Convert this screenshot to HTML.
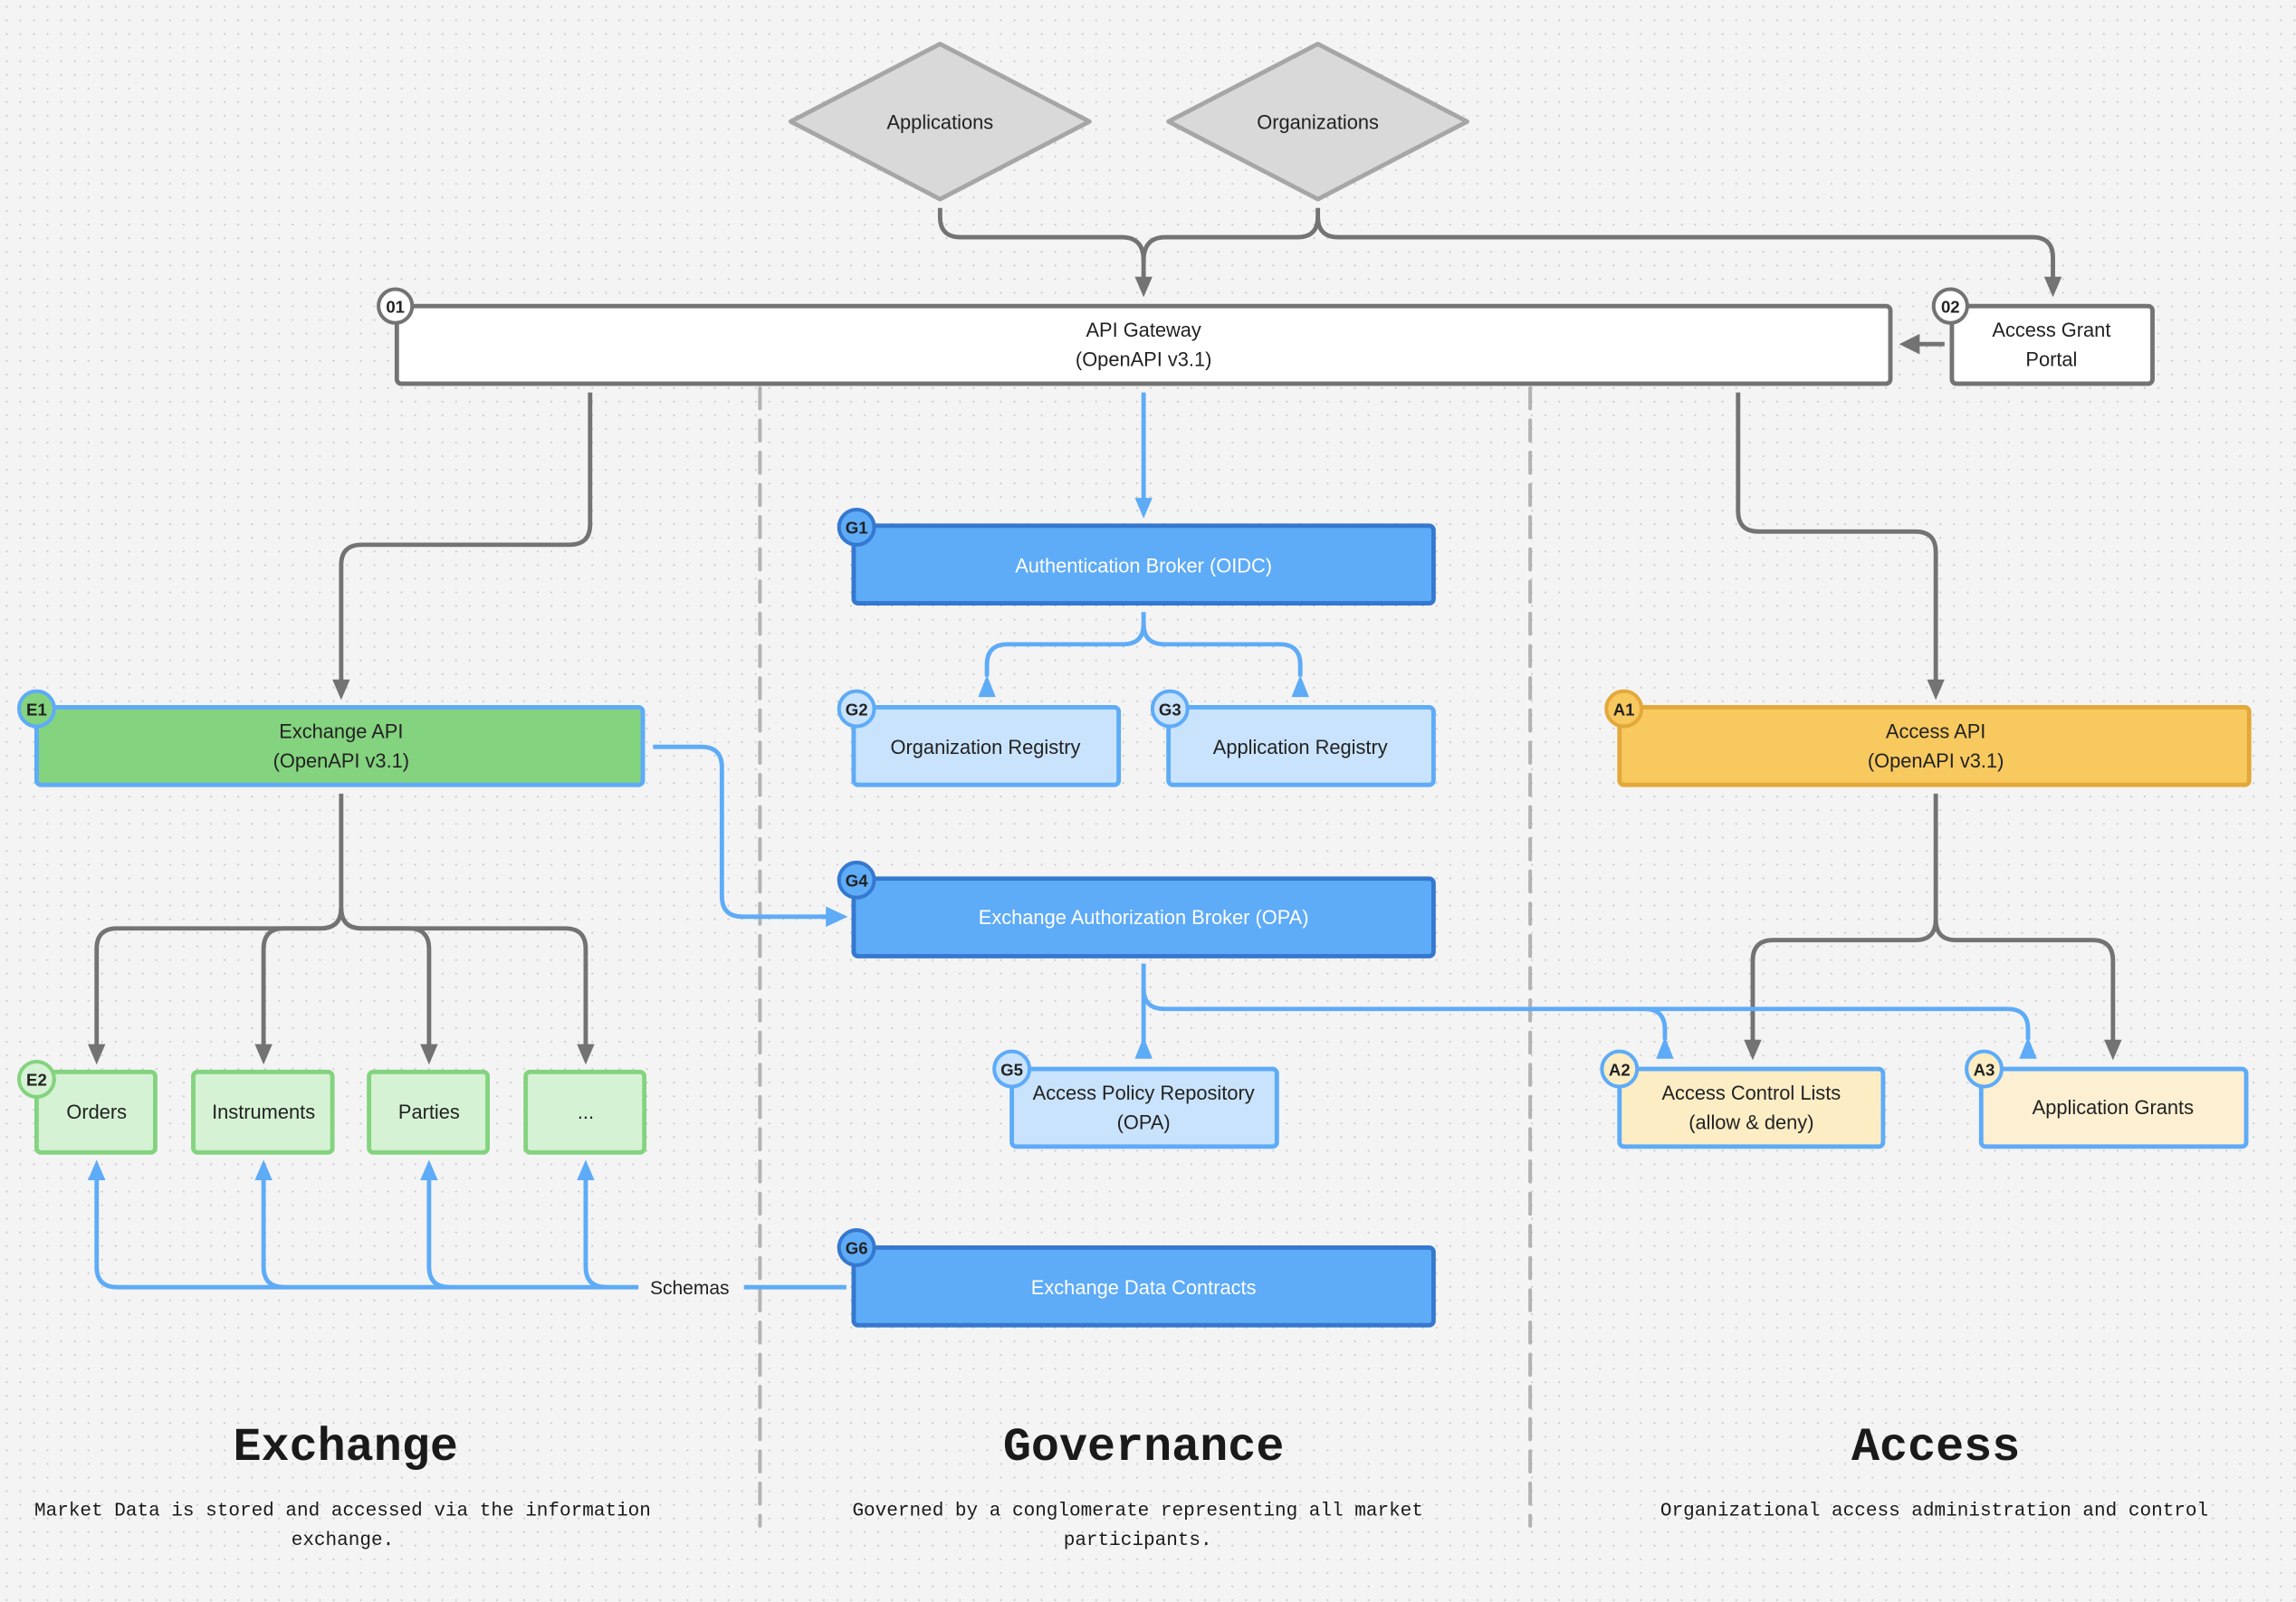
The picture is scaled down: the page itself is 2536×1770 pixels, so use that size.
<!DOCTYPE html>
<html><head><meta charset="utf-8"><style>
html,body{margin:0;padding:0;background:#f4f4f4;}
svg{display:block;}
.t{font-family:"Liberation Sans",sans-serif;font-size:13.5px;fill:#222;text-anchor:middle;}
.w{fill:#fff;}
.b{font-family:"Liberation Sans",sans-serif;font-size:11.5px;font-weight:bold;fill:#222;text-anchor:middle;}
.m{font-family:"Liberation Mono",monospace;text-anchor:middle;fill:#1a1a1a;}
</style></head><body>
<svg width="2536" height="1770" viewBox="0 0 1568 1094" preserveAspectRatio="none" xmlns="http://www.w3.org/2000/svg">
<defs>
<pattern id="dots" width="9.3" height="9.3" patternUnits="userSpaceOnUse"><circle cx="4.6" cy="4.6" r="0.65" fill="#c8c8c8"/></pattern>
</defs>
<rect width="1568" height="1094" fill="#f4f4f4"/>
<rect width="1568" height="1094" fill="url(#dots)"/>

<line x1="519" y1="265" x2="519" y2="1042" stroke="#b3b3b3" stroke-width="2.5" stroke-dasharray="14,8" stroke-linecap="round"/>
<line x1="1045" y1="265" x2="1045" y2="1042" stroke="#b3b3b3" stroke-width="2.5" stroke-dasharray="14,8" stroke-linecap="round"/>

<polygon points="642,30 744,83 642,136 540,83" fill="#d9d9d9" stroke="#a6a6a6" stroke-width="3" stroke-linejoin="round"/>
<text class="t" x="642" y="88">Applications</text>
<polygon points="900,30 1002,83 900,136 798,83" fill="#d9d9d9" stroke="#a6a6a6" stroke-width="3" stroke-linejoin="round"/>
<text class="t" x="900" y="88">Organizations</text>

<g fill="none" stroke="#737373" stroke-width="3">
<path d="M642,142 V148 Q642,162 656,162 H766 Q781,162 781,178 V190"/>
<path d="M900,142 V148 Q900,162 886,162 H796 Q781,162 781,178"/>
<path d="M900,148 Q900,162 914,162 H1388 Q1402,162 1402,176 V190"/>
<path d="M1328,235 H1310"/>
<path d="M403,268 V358 Q403,372 389,372 H247 Q233,372 233,386 V465"/>
<path d="M1187,268 V349 Q1187,363 1201,363 H1308 Q1322,363 1322,377 V465"/>
<path d="M233,542 V620 Q233,634 219,634 H80 Q66,634 66,648 V715"/>
<path d="M233,620 Q233,634 219,634 H194 Q180,634 180,648 V715"/>
<path d="M233,620 Q233,634 247,634 H279 Q293,634 293,648 V715"/>
<path d="M233,620 Q233,634 247,634 H386 Q400,634 400,648 V715"/>
<path d="M1322,542 V628 Q1322,642 1308,642 H1211 Q1197,642 1197,656 V712"/>
<path d="M1322,628 Q1322,642 1336,642 H1429 Q1443,642 1443,656 V712"/>
</g>
<g fill="#737373">
<polygon points="775,189 787,189 781,203"/>
<polygon points="1396,189 1408,189 1402,203"/>
<polygon points="1311,228 1311,242 1297,235"/>
<polygon points="227,464 239,464 233,478"/>
<polygon points="1316,464 1328,464 1322,478"/>
<polygon points="60,713 72,713 66,727"/>
<polygon points="174,713 186,713 180,727"/>
<polygon points="287,713 299,713 293,727"/>
<polygon points="394,713 406,713 400,727"/>
<polygon points="1191,710 1203,710 1197,724"/>
<polygon points="1437,710 1449,710 1443,724"/>
</g>

<g fill="none" stroke="#5eabf7" stroke-width="3">
<path d="M781,268 V342"/>
<path d="M781,418 V426 Q781,440 767,440 H688 Q674,440 674,454 V462"/>
<path d="M781,426 Q781,440 795,440 H874 Q888,440 888,454 V462"/>
<path d="M446,510 H479 Q493,510 493,524 V612 Q493,626 507,626 H568"/>
<path d="M781,658 V712"/>
<path d="M781,675 Q781,689 795,689 H1123 Q1137,689 1137,703 V710"/>
<path d="M1120,689 H1371 Q1385,689 1385,703 V710"/>
<path d="M578,879 H508"/>
<path d="M436,879 H80 Q66,879 66,865 V805"/>
<path d="M194,879 Q180,879 180,865 V805"/>
<path d="M307,879 Q293,879 293,865 V805"/>
<path d="M414,879 Q400,879 400,865 V805"/>
</g>
<g fill="#5eabf7">
<polygon points="775,340 787,340 781,354"/>
<polygon points="668,476 680,476 674,461"/>
<polygon points="882,476 894,476 888,461"/>
<polygon points="564,619 564,633 579,626"/>
<polygon points="775,723 787,723 781,708"/>
<polygon points="1131,723 1143,723 1137,708"/>
<polygon points="1379,723 1391,723 1385,708"/>
<polygon points="60,806 72,806 66,792"/>
<polygon points="174,806 186,806 180,792"/>
<polygon points="287,806 299,806 293,792"/>
<polygon points="394,806 406,806 400,792"/>
</g>
<rect x="438" y="870" width="70" height="18" fill="#f4f4f4"/>
<text class="t" x="471" y="884" style="font-size:13px">Schemas</text>

<rect x="271" y="209" width="1020" height="53" rx="3" fill="#fff" stroke="#737373" stroke-width="3"/>
<text class="t" x="781" y="230">API Gateway</text>
<text class="t" x="781" y="250">(OpenAPI v3.1)</text>
<circle cx="270" cy="209" r="11.5" fill="#fff" stroke="#737373" stroke-width="2.5"/><text class="b" x="270" y="213.5">01</text>

<rect x="1333" y="209" width="137" height="53" rx="3" fill="#fff" stroke="#737373" stroke-width="3"/>
<text class="t" x="1401" y="230">Access Grant</text>
<text class="t" x="1401" y="250">Portal</text>
<circle cx="1332" cy="209" r="11.5" fill="#fff" stroke="#737373" stroke-width="2.5"/><text class="b" x="1332" y="213.5">02</text>

<rect x="583" y="359" width="396" height="53" rx="3" fill="#5eabf7" stroke="#3578cf" stroke-width="3"/>
<text class="t w" x="781" y="391">Authentication Broker (OIDC)</text>
<circle cx="585" cy="360" r="12" fill="#5eabf7" stroke="#3578cf" stroke-width="2.5"/><text class="b w" x="585" y="364.5">G1</text>

<rect x="583" y="483" width="181" height="53" rx="3" fill="#c9e3fc" stroke="#5eabf7" stroke-width="3"/>
<text class="t" x="673" y="515">Organization Registry</text>
<circle cx="585" cy="484" r="12" fill="#c9e3fc" stroke="#5eabf7" stroke-width="2.5"/><text class="b" x="585" y="488.5">G2</text>
<rect x="798" y="483" width="181" height="53" rx="3" fill="#c9e3fc" stroke="#5eabf7" stroke-width="3"/>
<text class="t" x="888" y="515">Application Registry</text>
<circle cx="799" cy="484" r="12" fill="#c9e3fc" stroke="#5eabf7" stroke-width="2.5"/><text class="b" x="799" y="488.5">G3</text>

<rect x="583" y="600" width="396" height="53" rx="3" fill="#5eabf7" stroke="#3578cf" stroke-width="3"/>
<text class="t w" x="781" y="631">Exchange Authorization Broker (OPA)</text>
<circle cx="585" cy="601" r="12" fill="#5eabf7" stroke="#3578cf" stroke-width="2.5"/><text class="b w" x="585" y="605.5">G4</text>

<rect x="691" y="730" width="181" height="53" rx="3" fill="#c9e3fc" stroke="#5eabf7" stroke-width="3"/>
<text class="t" x="781" y="751">Access Policy Repository</text>
<text class="t" x="781" y="771">(OPA)</text>
<circle cx="691" cy="730" r="12" fill="#c9e3fc" stroke="#5eabf7" stroke-width="2.5"/><text class="b" x="691" y="734.5">G5</text>

<rect x="583" y="852" width="396" height="53" rx="3" fill="#5eabf7" stroke="#3578cf" stroke-width="3"/>
<text class="t w" x="781" y="884">Exchange Data Contracts</text>
<circle cx="585" cy="852" r="12" fill="#5eabf7" stroke="#3578cf" stroke-width="2.5"/><text class="b w" x="585" y="856.5">G6</text>

<rect x="25" y="483" width="414" height="53" rx="3" fill="#84d37f" stroke="#5eabf7" stroke-width="3"/>
<text class="t" x="233" y="504">Exchange API</text>
<text class="t" x="233" y="524">(OpenAPI v3.1)</text>
<circle cx="25" cy="484" r="12" fill="#84d37f" stroke="#5eabf7" stroke-width="2.5"/><text class="b" x="25" y="488.5">E1</text>

<g fill="#d5f2d4" stroke="#84d37f" stroke-width="3">
<rect x="25" y="732" width="81" height="55" rx="3"/>
<rect x="132" y="732" width="95" height="55" rx="3"/>
<rect x="252" y="732" width="81" height="55" rx="3"/>
<rect x="359" y="732" width="81" height="55" rx="3"/>
</g>
<text class="t" x="66" y="764">Orders</text>
<text class="t" x="180" y="764">Instruments</text>
<text class="t" x="293" y="764">Parties</text>
<text class="t" x="400" y="764">...</text>
<circle cx="25" cy="737" r="12" fill="#d5f2d4" stroke="#84d37f" stroke-width="2.5"/><text class="b" x="25" y="741.5">E2</text>

<rect x="1106" y="483" width="430" height="53" rx="3" fill="#f7c95e" stroke="#e3a83b" stroke-width="3"/>
<text class="t" x="1322" y="504">Access API</text>
<text class="t" x="1322" y="524">(OpenAPI v3.1)</text>
<circle cx="1109" cy="484" r="12" fill="#f7c95e" stroke="#e3a83b" stroke-width="2.5"/><text class="b" x="1109" y="488.5">A1</text>

<rect x="1106" y="730" width="180" height="53" rx="3" fill="#fcedc5" stroke="#5eabf7" stroke-width="3"/>
<text class="t" x="1196" y="751">Access Control Lists</text>
<text class="t" x="1196" y="771">(allow &amp; deny)</text>
<circle cx="1106" cy="730" r="12" fill="#fcedc5" stroke="#5eabf7" stroke-width="2.5"/><text class="b" x="1106" y="734.5">A2</text>
<rect x="1353" y="730" width="181" height="53" rx="3" fill="#fcefd2" stroke="#5eabf7" stroke-width="3"/>
<text class="t" x="1443" y="761">Application Grants</text>
<circle cx="1355" cy="730" r="12" fill="#fcedc5" stroke="#5eabf7" stroke-width="2.5"/><text class="b" x="1355" y="734.5">A3</text>

<text class="m" x="236" y="997" style="font-size:32px;font-weight:bold">Exchange</text>
<text class="m" x="781" y="997" style="font-size:32px;font-weight:bold">Governance</text>
<text class="m" x="1322" y="997" style="font-size:32px;font-weight:bold">Access</text>
<text class="m" x="234" y="1035" style="font-size:13px">Market Data is stored and accessed via the information</text>
<text class="m" x="234" y="1055" style="font-size:13px">exchange.</text>
<text class="m" x="777" y="1035" style="font-size:13px">Governed by a conglomerate representing all market</text>
<text class="m" x="777" y="1055" style="font-size:13px">participants.</text>
<text class="m" x="1321" y="1035" style="font-size:13px">Organizational access administration and control</text>
</svg>
</body></html>
